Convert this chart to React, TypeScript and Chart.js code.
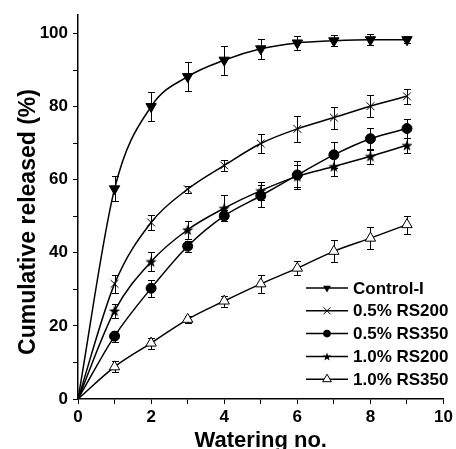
import React, { useEffect, useRef } from "react";
import { Chart, registerables } from "chart.js";

Chart.register(...registerables);

const xValues = [0, 1, 2, 3, 4, 5, 6, 7, 8, 9];

const controlI = [0, 57.5, 80, 88.2, 92.7, 95.8, 97.4, 98.0, 98.3, 98.3];
const controlIErr = [0, 3.4, 4, 4, 4, 2.7, 2, 1.5, 1.5, 1];

const rs200_05 = [0, 31.5, 48.3, 57.4, 63.9, 69.9, 73.9, 77.0, 80.1, 82.8];
const rs200_05Err = [0, 2.5, 2, 1, 1.5, 2.5, 3.5, 3, 3, 2];

const rs350_05 = [0, 17.2, 30.3, 41.8, 50.1, 55.6, 61.3, 66.8, 71.2, 74.0];
const rs350_05Err = [0, 1.5, 2.3, 1.5, 1.5, 3, 3.8, 3.5, 3, 2.5];

const rs200_10 = [0, 24.1, 37.6, 46.3, 52.2, 57.0, 60.9, 63.6, 66.4, 69.4];
const rs200_10Err = [0, 2, 2.5, 2.5, 3.5, 2.5, 3, 2.5, 2, 2];

const rs350_10 = [0, 8.8, 15.3, 21.8, 26.8, 31.5, 35.8, 40.4, 44.0, 47.7];
const rs350_10Err = [0, 1.5, 1.5, 1, 1.5, 2.5, 2, 3, 3, 2.5];

const seriesLabels = ["Control-I", "0.5% RS200", "0.5% RS350", "1.0% RS200", "1.0% RS350"];
const xTitle = "Watering no.";
const yTitle = "Cumulative released (%)";

const FONT = "'Liberation Sans', Arial, Helvetica, sans-serif";

function starPath(ctx: CanvasRenderingContext2D, cx: number, cy: number, ro: number, ri: number) {
  ctx.beginPath();
  for (let i = 0; i < 10; i++) {
    const r = i % 2 === 0 ? ro : ri;
    const a = -Math.PI / 2 + (i * Math.PI) / 5;
    const px = cx + r * Math.cos(a);
    const py = cy + r * Math.sin(a);
    if (i === 0) ctx.moveTo(px, py);
    else ctx.lineTo(px, py);
  }
  ctx.closePath();
}

function makeStar(size: number) {
  const c = document.createElement("canvas");
  c.width = size;
  c.height = size;
  const g = c.getContext("2d")!;
  g.fillStyle = "#000";
  starPath(g, size / 2, size / 2 + 0.5, size / 2, size / 5);
  g.fill();
  return c;
}

function drawMarker(ctx: CanvasRenderingContext2D, kind: number, x: number, y: number) {
  ctx.save();
  ctx.strokeStyle = "#000";
  ctx.fillStyle = "#000";
  ctx.lineWidth = 1;
  if (kind === 0) {
    const r = 4.5;
    ctx.beginPath();
    ctx.moveTo(x - r * 0.87, y - r * 0.5);
    ctx.lineTo(x + r * 0.87, y - r * 0.5);
    ctx.lineTo(x, y + r);
    ctx.closePath();
    ctx.fill();
  } else if (kind === 1) {
    const r = 3.5;
    ctx.beginPath();
    ctx.moveTo(x - r, y - r);
    ctx.lineTo(x + r, y + r);
    ctx.moveTo(x + r, y - r);
    ctx.lineTo(x - r, y + r);
    ctx.stroke();
  } else if (kind === 2) {
    ctx.beginPath();
    ctx.arc(x, y, 3.8, 0, Math.PI * 2);
    ctx.fill();
  } else if (kind === 3) {
    starPath(ctx, x, y + 0.5, 4.5, 1.8);
    ctx.fill();
  } else {
    const r = 5;
    ctx.fillStyle = "#fff";
    ctx.beginPath();
    ctx.moveTo(x, y - r);
    ctx.lineTo(x + r * 0.87, y + r * 0.5);
    ctx.lineTo(x - r * 0.87, y + r * 0.5);
    ctx.closePath();
    ctx.fill();
    ctx.stroke();
  }
  ctx.restore();
}

export default function App() {
  const ref = useRef<HTMLCanvasElement | null>(null);

  useEffect(() => {
    if (!ref.current) return;
    const star = makeStar(12);
    const values = [controlI, rs200_05, rs350_05, rs200_10, rs350_10];
    const errors = [controlIErr, rs200_05Err, rs350_05Err, rs200_10Err, rs350_10Err];
    const styles: any[] = [
      { pointStyle: "triangle", rotation: 180, radius: 6, bg: "#000" },
      { pointStyle: "crossRot", rotation: 0, radius: 5.5, bg: "#000" },
      { pointStyle: "circle", rotation: 0, radius: 5, bg: "#000" },
      { pointStyle: star, rotation: 0, radius: 6, bg: "#000" },
      { pointStyle: "triangle", rotation: 0, radius: 6, bg: "#fff" },
    ];

    const datasets = values.map((vals, i) => ({
      label: seriesLabels[i],
      data: xValues.map((x, j) => ({ x, y: vals[j] })),
      borderColor: "#000",
      borderWidth: 1.5,
      backgroundColor: styles[i].bg,
      pointStyle: styles[i].pointStyle,
      rotation: styles[i].rotation,
      pointRadius: (c: any) => (c.dataIndex === 0 ? 0 : styles[i].radius),
      pointBorderColor: "#000",
      pointBackgroundColor: styles[i].bg,
      pointBorderWidth: 1,
      cubicInterpolationMode: "monotone" as const,
      fill: false,
    }));

    const errorBars = {
      id: "errorBars",
      beforeDatasetsDraw(chart: any) {
        const ctx = chart.ctx;
        const yScale = chart.scales.y;
        ctx.save();
        ctx.strokeStyle = "#000";
        ctx.lineWidth = 1;
        values.forEach((vals, i) => {
          const meta = chart.getDatasetMeta(i);
          meta.data.forEach((pt: any, j: number) => {
            const e = errors[i][j];
            if (!e) return;
            const x = Math.round(pt.x) + 0.5;
            const yt = Math.round(yScale.getPixelForValue(vals[j] + e)) + 0.5;
            const yb = Math.round(yScale.getPixelForValue(vals[j] - e)) + 0.5;
            ctx.beginPath();
            ctx.moveTo(x, yt);
            ctx.lineTo(x, yb);
            ctx.moveTo(x - 3.5, yt);
            ctx.lineTo(x + 3.5, yt);
            ctx.moveTo(x - 3.5, yb);
            ctx.lineTo(x + 3.5, yb);
            ctx.stroke();
          });
        });
        ctx.restore();
      },
    };

    const extras = {
      id: "extras",
      afterDraw(chart: any) {
        const ctx = chart.ctx;
        const area = chart.chartArea;
        ctx.save();
        ctx.fillStyle = "#000";
        // axis titles
        ctx.font = `bold 22px ${FONT}`;
        ctx.textAlign = "center";
        ctx.textBaseline = "alphabetic";
        ctx.fillText(xTitle, (area.left + area.right) / 2, 447);
        ctx.save();
        ctx.font = `bold 23px ${FONT}`;
        ctx.translate(35, 222);
        ctx.rotate(-Math.PI / 2);
        ctx.fillText(yTitle, 0, 0);
        ctx.restore();
        // legend
        const x0 = 306;
        const x1 = 348;
        const y0 = 288;
        const dy = 22.8;
        ctx.font = `bold 17px ${FONT}`;
        ctx.textAlign = "left";
        ctx.textBaseline = "middle";
        seriesLabels.forEach((lab, i) => {
          const y = y0 + i * dy;
          ctx.strokeStyle = "#000";
          ctx.lineWidth = 1.5;
          ctx.beginPath();
          ctx.moveTo(x0, y);
          ctx.lineTo(x1, y);
          ctx.stroke();
          drawMarker(ctx, i, (x0 + x1) / 2, y);
          ctx.fillStyle = "#000";
          ctx.fillText(lab, 353, y + 1);
        });
        ctx.restore();
      },
    };

    const chart = new Chart(ref.current, {
      type: "line",
      data: { datasets },
      options: {
        animation: false,
        responsive: false,
        layout: { padding: { top: 13, right: 10, left: 0, bottom: 0 } },
        plugins: { legend: { display: false }, tooltip: { enabled: false } },
        scales: {
          x: {
            type: "linear",
            min: 0,
            max: 10,
            afterFit: (s: any) => {
              s.height = 50;
            },
            border: { display: true, color: "#000", width: 1.5 },
            grid: { display: true, drawOnChartArea: false, drawTicks: true, tickLength: 5, color: "#000", tickWidth: 1 },
            ticks: {
              stepSize: 1,
              includeBounds: false,
              autoSkip: false,
              maxRotation: 0,
              padding: 3,
              color: "#000",
              font: { family: FONT, size: 17, weight: "bold" },
              callback: (v: any) => (Number(v) % 2 === 0 ? String(v) : ""),
            },
          },
          y: {
            type: "linear",
            min: 0,
            max: 105,
            afterFit: (s: any) => {
              s.width = 78;
            },
            border: { display: true, color: "#000", width: 1.5 },
            grid: { display: true, drawOnChartArea: false, drawTicks: true, tickLength: 5, color: "#000", tickWidth: 1 },
            ticks: {
              stepSize: 10,
              includeBounds: false,
              autoSkip: false,
              padding: 5,
              color: "#000",
              font: { family: FONT, size: 17, weight: "bold" },
              callback: (v: any) => (Number(v) % 20 === 0 ? String(v) : ""),
            },
          },
        },
      },
      plugins: [errorBars, extras],
    });
    return () => chart.destroy();
  }, []);

  return (
    <div style={{ position: "absolute", left: 0, top: 0, width: 456, height: 449, background: "#fff" }}>
      <canvas ref={ref} width={456} height={449} style={{ display: "block" }} />
    </div>
  );
}
